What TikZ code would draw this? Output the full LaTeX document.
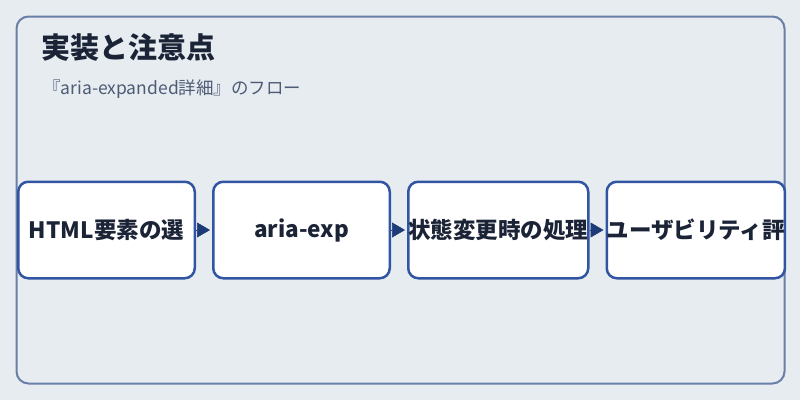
\documentclass[tikz,border=0pt]{standalone}
\usepackage{fontspec}
\setmainfont{Noto Sans CJK JP}
\usepackage{xcolor}
\usepackage{tikz}
\usetikzlibrary{arrows.meta,positioning}

\definecolor{pagebg}{HTML}{E7ECF1}
\definecolor{framecol}{HTML}{6A7FA8}
\definecolor{boxcol}{HTML}{3155A2}
\definecolor{arrowcol}{HTML}{1E3A78}
\definecolor{inkcol}{HTML}{1B2336}
\definecolor{subcol}{HTML}{4D5B75}

\begin{document}
\begin{tikzpicture}[x=1pt,y=-1pt,
    frame/.style={draw=framecol, line width=2pt, rounded corners=12pt},
    stepbox/.style={draw=boxcol, line width=2.5pt, fill=white, rounded corners=10pt,
      minimum width=176.5pt, minimum height=96.5pt, inner sep=0pt,
      font=\fontsize{22.5}{26}\selectfont\bfseries, text=inkcol},
    flow/.style={draw=arrowcol, line width=0.5pt, shorten >=2pt,
      -{Triangle[length=13pt,width=15pt,fill=arrowcol]}}]

  % Page and outer frame
  \fill[pagebg] (0,0) rectangle (800,400);
  \useasboundingbox (0,0) rectangle (800,400);
  \draw[frame] (16.5,16.5) rectangle (784.5,383.5);

  % Heading
  \node[anchor=west, inner sep=0pt, text=inkcol, font=\fontsize{29}{32}\selectfont\bfseries]
    (title) at (41,47) {実装と注意点};
  \node[anchor=west, inner sep=0pt, text=subcol, font=\fontsize{17.5}{20}\selectfont]
    (subtitle) at (43,89) {『aria-expanded詳細』のフロー};

  % Steps
  \node[stepbox] (select) at (106.5,230) {HTML要素の選};
  \node[stepbox, right=16pt of select] (aria) {aria-exp};
  \node[stepbox, right=16pt of aria] (state) {状態変更時の処理};
  \node[stepbox, right=16pt of state] (usab) {ユーザビリティ評};

  % Flow
  \draw[flow] (select) -- (aria);
  \draw[flow] (aria) -- (state);
  \draw[flow] (state) -- (usab);

\end{tikzpicture}
\end{document}
